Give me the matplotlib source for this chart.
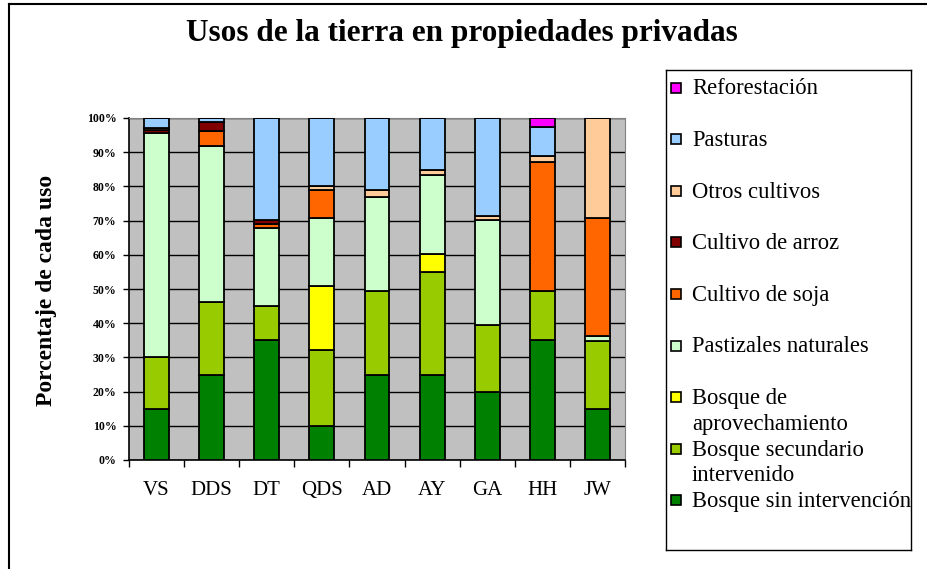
import numpy as np
import matplotlib
matplotlib.use("Agg")
import matplotlib.pyplot as plt
from matplotlib.patches import Rectangle
from matplotlib.lines import Line2D

plt.rcParams['font.family'] = ['Liberation Serif', 'DejaVu Serif']

categories = ["VS", "DDS", "DT", "QDS", "AD", "AY", "GA", "HH", "JW"]

series_names = ["Bosque sin intervención", "Bosque secundario\nintervenido",
                "Bosque de\naprovechamiento", "Pastizales naturales", "Cultivo de soja",
                "Cultivo de arroz", "Otros cultivos", "Pasturas", "Reforestación"]

bosque_sin = [15.0, 25.0, 35.0, 10.0, 25.0, 25.0, 20.0, 35.0, 15.0]
bosque_secundario = [15.0, 21.2, 10.0, 22.1, 24.5, 30.0, 19.6, 14.5, 19.9]
bosque_aprov = [0.0, 0.0, 0.0, 18.7, 0.0, 5.2, 0.0, 0.0, 0.0]
pastizales = [65.6, 45.5, 22.7, 19.9, 27.5, 23.0, 30.6, 0.0, 1.4]
soja = [0.0, 4.6, 1.4, 8.3, 0.0, 0.0, 0.0, 37.6, 34.4]
arroz = [0.8, 2.5, 1.1, 0.0, 0.0, 0.0, 0.0, 0.0, 0.0]
otros_cultivos = [0.6, 0.0, 0.0, 1.2, 2.0, 1.6, 1.2, 1.9, 29.3]
pasturas = [3.0, 1.2, 29.8, 19.8, 21.0, 15.2, 28.6, 8.3, 0.0]
reforestacion = [0.0, 0.0, 0.0, 0.0, 0.0, 0.0, 0.0, 2.7, 0.0]

series = [bosque_sin, bosque_secundario, bosque_aprov, pastizales, soja,
          arroz, otros_cultivos, pasturas, reforestacion]
colors = ["#008000", "#99CC00", "#FFFF00", "#CCFFCC", "#FF6600",
          "#800000", "#FFCC99", "#99CCFF", "#FF00FF"]

yticks = [0, 10, 20, 30, 40, 50, 60, 70, 80, 90, 100]
ytick_labels = ["0%", "10%", "20%", "30%", "40%", "50%", "60%", "70%", "80%", "90%", "100%"]

W, H = 928, 569
fig = plt.figure(figsize=(W / 100, H / 100), dpi=100)

# plot area
ax = fig.add_axes([129 / W, 1 - 460 / H, 496 / W, 342 / H])
ax.set_facecolor("#C0C0C0")
x = np.arange(len(categories))
bottom = np.zeros(len(categories))
for vals, col in zip(series, colors):
    v = np.array(vals)
    ax.bar(x, v, width=0.45, bottom=bottom, color=col, edgecolor="black",
           linewidth=1.3, zorder=3)
    bottom += v

ax.set_xlim(-0.5, len(categories) - 0.5)
ax.set_ylim(0, 100)
ax.set_yticks(yticks)
ax.set_yticklabels(ytick_labels, fontsize=8.5, fontweight="bold")
ax.yaxis.grid(True, color="black", linewidth=1.0, zorder=1)
ax.set_axisbelow(True)
ax.tick_params(axis="y", direction="out", length=4, width=1, pad=5)

ax.set_xticks(np.arange(len(categories) + 1) - 0.5)
ax.set_xticklabels([])
ax.tick_params(axis="x", which="major", direction="out", length=5, width=1)
ax.set_xticks(x, minor=True)
ax.set_xticklabels(categories, minor=True, fontsize=15)
ax.tick_params(axis="x", which="minor", length=0, pad=15)

for s in ["top", "right"]:
    ax.spines[s].set_color("#808080")
for s in ["left", "bottom"]:
    ax.spines[s].set_color("black")
    ax.spines[s].set_linewidth(1.2)

ax.set_ylabel("Porcentaje de cada uso", fontsize=17, fontweight="bold")
ax.yaxis.label.set_va("center")
ax.yaxis.set_label_coords((47 - 129) / 496, (460 - 290) / 342)

# title
fig.text(461.5 / W, 1 - 33 / H, "Usos de la tierra en propiedades privadas",
         ha="center", va="center", fontsize=22.5, fontweight="bold")

# legend box (manual, Excel-like)
lx0, lx1, ly0, ly1 = 666, 911, 70, 550
lax = fig.add_axes([lx0 / W, 1 - ly1 / H, (lx1 - lx0) / W, (ly1 - ly0) / H])
lax.set_xlim(lx0, lx1)
lax.set_ylim(ly1, ly0)
lax.set_xticks([])
lax.set_yticks([])
for s in lax.spines.values():
    s.set_color("black")
    s.set_linewidth(1.0)
step = 51.6
for i, (name, col) in enumerate(zip(series_names[::-1], colors[::-1])):
    yc = 87.5 + step * i
    lax.add_patch(Rectangle((671, yc - 5), 10, 10, facecolor=col,
                            edgecolor="black", linewidth=1.2))
    for j, line in enumerate(name.split("\n")):
        lax.text(692, yc + 1.5 + 25.5 * j, line, ha="left", va="center",
                 fontsize=16.3)

# outer chart border (left and top visible)
fig.add_artist(Line2D([9 / W, 9 / W], [0, 1 - 4 / H], transform=fig.transFigure,
                      color="black", linewidth=1.5))
fig.add_artist(Line2D([9 / W, 1], [1 - 4 / H, 1 - 4 / H], transform=fig.transFigure,
                      color="black", linewidth=1.5))

fig.savefig("out.png", dpi=100)
